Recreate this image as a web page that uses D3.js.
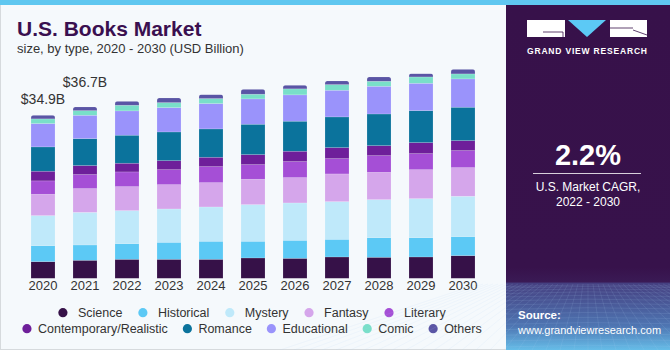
<!DOCTYPE html>
<html>
<head>
<meta charset="utf-8">
<script src="https://cdn.jsdelivr.net/npm/d3@7"></script>
<style>
  body { margin: 0; padding: 0; background: #ffffff; }
  svg { display: block; font-family: "Liberation Sans", Arial, sans-serif; }
</style>
</head>
<body>
<div id="chart"></div>
<script>
// U.S. books market, stacked by type (USD billion)

var years = ["2020", "2021", "2022", "2023", "2024", "2025", "2026", "2027", "2028", "2029", "2030"];
var categories = ["Science", "Historical", "Mystery", "Fantasy", "Literary",
  "Contemporary/Realistic", "Romance", "Educational", "Comic", "Others"];
var catColors = ["#361148", "#5cc9f5", "#bfe9fa", "#d5a6eb", "#a54fd6",
  "#6e1f9a", "#0b739c", "#9a93fb", "#79dfc9", "#5a55a5"];

var science      = [3.57, 3.86, 4.07, 4.07, 4.07, 4.36, 4.28, 4.57, 4.50, 4.57, 4.86];
var historical   = [3.43, 3.28, 3.36, 3.64, 3.86, 3.57, 3.86, 3.78, 4.21, 4.14, 4.07];
var mystery      = [6.43, 6.98, 7.07, 7.14, 7.35, 7.85, 8.00, 8.07, 8.14, 8.35, 8.64];
var fantasy      = [4.57, 5.10, 5.14, 5.21, 5.21, 5.43, 5.43, 5.93, 5.85, 6.21, 6.14];
var literary     = [2.86, 3.00, 3.14, 3.21, 3.43, 3.14, 3.43, 3.28, 3.57, 3.43, 3.64];
var contemporary = [2.07, 1.93, 1.86, 1.93, 2.00, 2.14, 2.21, 2.36, 2.14, 2.36, 2.14];
var romance      = [5.21, 5.76, 6.00, 6.14, 6.07, 6.50, 6.43, 6.57, 6.78, 6.85, 7.14];
var educational  = [5.00, 5.00, 5.21, 5.21, 5.43, 5.43, 5.64, 5.71, 5.93, 5.85, 6.07];
var comic        = [1.00, 1.00, 1.21, 1.07, 1.07, 1.00, 1.29, 1.21, 1.07, 1.36, 1.07];
var others       = [0.79, 0.79, 0.86, 1.00, 0.86, 1.07, 0.79, 0.79, 0.93, 0.71, 1.00];

var labelledYears = ["2020", "2021"];
var cagrText = "2.2%";

var series = [science, historical, mystery, fantasy, literary,
  contemporary, romance, educational, comic, others];

var width = 670, height = 350;
var panelX = 506;

// build rows for d3.stack
var rows = years.map(function(yr, i){
  var r = {year: yr};
  categories.forEach(function(c, j){ r[c] = series[j][i]; });
  return r;
});
var stacked = d3.stack().keys(categories)(rows);
var totals = years.map(function(yr, i){ return d3.sum(series, function(s){ return s[i]; }); });

var svg = d3.select("#chart").append("svg")
  .attr("width", width).attr("height", height);

var defs = svg.append("defs");

// backgrounds
svg.append("rect").attr("x", 0).attr("y", 0).attr("width", width).attr("height", height)
  .attr("fill", "#f5f9fc");
svg.append("rect").attr("x", 0.5).attr("y", 0.5).attr("width", panelX).attr("height", height - 1)
  .attr("fill", "none").attr("stroke", "#d6dadd");
svg.append("rect").attr("x", 0).attr("y", 0).attr("width", width).attr("height", 5)
  .attr("fill", "#5fc7f0");

// title
svg.append("text").attr("x", 17).attr("y", 36)
  .attr("font-size", 21).attr("font-weight", "bold").attr("fill", "#3a1050")
  .text("U.S. Books Market");
svg.append("text").attr("x", 17).attr("y", 53)
  .attr("font-size", 13).attr("fill", "#333")
  .text("size, by type, 2020 - 2030 (USD Billion)");

// scales
var x = d3.scaleBand().domain(years).range([22, 484])
  .paddingInner(18 / 42).paddingOuter(9 / 42);
var y = d3.scaleLinear().domain([0, 45]).range([278.3, 278.3 - 45 * 4.67]);

// clip paths give the bars their rounded tops
years.forEach(function(yr, i){
  defs.append("clipPath").attr("id", "clip" + yr)
    .append("rect")
    .attr("x", x(yr)).attr("y", y(totals[i]))
    .attr("width", x.bandwidth()).attr("height", y(0) - y(totals[i]) + 4)
    .attr("rx", 2.5);
});

var layers = svg.append("g").selectAll("g")
  .data(stacked).join("g")
  .attr("fill", function(d, i){ return catColors[i]; });

layers.selectAll("rect")
  .data(function(d){ return d; })
  .join("rect")
  .attr("clip-path", function(d){ return "url(#clip" + d.data.year + ")"; })
  .attr("x", function(d){ return x(d.data.year); })
  .attr("y", function(d){ return y(d[1]); })
  .attr("width", x.bandwidth())
  .attr("height", function(d){ return y(d[0]) - y(d[1]); })
  .attr("stroke", "#ffffff").attr("stroke-opacity", 0.25).attr("stroke-width", 0.6);

// value labels over the first two bars
var labelLift = [11.5, 20];
svg.append("g").selectAll("text")
  .data(labelledYears).join("text")
  .attr("x", function(d){ return x(d) + x.bandwidth() / 2; })
  .attr("y", function(d, i){ return y(totals[years.indexOf(d)]) - labelLift[i]; })
  .attr("text-anchor", "middle").attr("font-size", 14).attr("fill", "#333")
  .text(function(d){ return "$" + d3.format(".1f")(totals[years.indexOf(d)]) + "B"; });

// year axis
var xAxis = d3.axisBottom(x).tickSize(0).tickPadding(0);
var axisG = svg.append("g").attr("transform", "translate(0," + 281 + ")").call(xAxis);
axisG.select(".domain").remove();
axisG.selectAll("text").attr("font-size", 13).attr("fill", "#333")
  .attr("font-family", "'Liberation Sans', Arial, sans-serif").attr("dy", "0.71em");

// legend, two centred rows
var legendRows = [
  {items: categories.slice(0, 5), cy: 312.7, textGap: 15, itemGap: 20.5},
  {items: categories.slice(5), cy: 328.7, textGap: 11, itemGap: 19.5}
];
var legendCenter = 252;
legendRows.forEach(function(row){
  var g = svg.append("g");
  var cx = 0;
  var items = row.items.map(function(name){
    var it = g.append("g");
    it.append("circle").attr("r", 4.6).attr("cx", 0).attr("cy", row.cy)
      .attr("fill", catColors[categories.indexOf(name)]);
    var t = it.append("text").attr("x", row.textGap).attr("y", row.cy + 4.3)
      .attr("font-size", 12.5).attr("fill", "#333").text(name);
    var w = t.node().getComputedTextLength();
    it.attr("transform", "translate(" + cx + ",0)");
    var left = cx - 4.6;
    cx += row.textGap + w + row.itemGap;
    return {left: left, right: cx - row.itemGap};
  });
  var span = items[items.length - 1].right - items[0].left;
  g.attr("transform", "translate(" + (legendCenter - span / 2 - items[0].left) + ",0)");
});

// right panel
var grad = defs.append("linearGradient").attr("id", "panelGrad")
  .attr("x1", 0).attr("y1", 0).attr("x2", 0).attr("y2", 1);
grad.append("stop").attr("offset", "0%").attr("stop-color", "#37114a");
grad.append("stop").attr("offset", "76%").attr("stop-color", "#37124b");
grad.append("stop").attr("offset", "80.3%").attr("stop-color", "#3a1a55");
grad.append("stop").attr("offset", "80.6%").attr("stop-color", "#453f80");
grad.append("stop").attr("offset", "93%").attr("stop-color", "#4e75b2");
grad.append("stop").attr("offset", "100%").attr("stop-color", "#66bde8");

svg.append("rect").attr("x", panelX).attr("y", 5)
  .attr("width", width - panelX).attr("height", height - 5)
  .attr("fill", "url(#panelGrad)");

// faint perspective grid near the bottom of the panel
var grid = svg.append("g").attr("stroke", "#b4d4f4").attr("stroke-opacity", 0.2)
  .attr("stroke-width", 0.6).attr("fill", "none");
var hLines = d3.range(0, 16).map(function(k){ return 285 + Math.pow(k, 1.4) * 1.5; });
hLines.forEach(function(hy, k){
  grid.append("path")
    .attr("d", "M" + panelX + "," + (hy + 1.5) + " Q588," + (hy - 1.5) + " " + width + "," + (hy + 1));
});
d3.range(-22, 23).forEach(function(k){
  grid.append("line")
    .attr("x1", 588 + k * 5).attr("y1", 284)
    .attr("x2", 588 + k * 14).attr("y2", height);
});

// logo
var logo = svg.append("g");
logo.append("rect").attr("x", 527).attr("y", 20).attr("width", 38).attr("height", 17).attr("fill", "#ffffff");
logo.append("path").attr("d", "M543,32 L563,32 L563,37").attr("stroke", "#37114a")
  .attr("stroke-width", 0.8).attr("fill", "none");
logo.append("path").attr("d", "M568,20 L606,20 L587,37 Z").attr("fill", "#5cc9f5");
logo.append("rect").attr("x", 610).attr("y", 20).attr("width", 37).attr("height", 17).attr("fill", "#ffffff");
logo.append("path").attr("d", "M633,30 L647,35 M610,28 L633,28").attr("stroke", "#37114a")
  .attr("stroke-width", 0.8).attr("fill", "none");
logo.append("text").attr("x", 527).attr("y", 54)
  .attr("font-size", 8.5).attr("font-weight", "bold").attr("fill", "#ffffff")
  .attr("textLength", 120).attr("lengthAdjust", "spacing")
  .text("GRAND VIEW RESEARCH");

var pc = (panelX + width) / 2;
svg.append("text").attr("x", pc).attr("y", 165)
  .attr("text-anchor", "middle").attr("font-size", 29).attr("font-weight", "bold")
  .attr("fill", "#ffffff").text(cagrText);
svg.append("line").attr("x1", 533).attr("x2", 641).attr("y1", 173.5).attr("y2", 173.5)
  .attr("stroke", "#ffffff").attr("stroke-opacity", 0.8).attr("stroke-width", 1);
svg.append("text").attr("x", pc).attr("y", 191)
  .attr("text-anchor", "middle").attr("font-size", 12).attr("fill", "#ffffff")
  .text("U.S. Market CAGR,");
svg.append("text").attr("x", pc).attr("y", 206)
  .attr("text-anchor", "middle").attr("font-size", 12).attr("fill", "#ffffff")
  .text("2022 - 2030");

svg.append("text").attr("x", 518).attr("y", 319)
  .attr("font-size", 11.5).attr("font-weight", "bold").attr("fill", "#ffffff")
  .text("Source:");
svg.append("text").attr("x", 518).attr("y", 334)
  .attr("font-size", 11).attr("fill", "#ffffff")
  .text("www.grandviewresearch.com");
</script>
</body>
</html>
